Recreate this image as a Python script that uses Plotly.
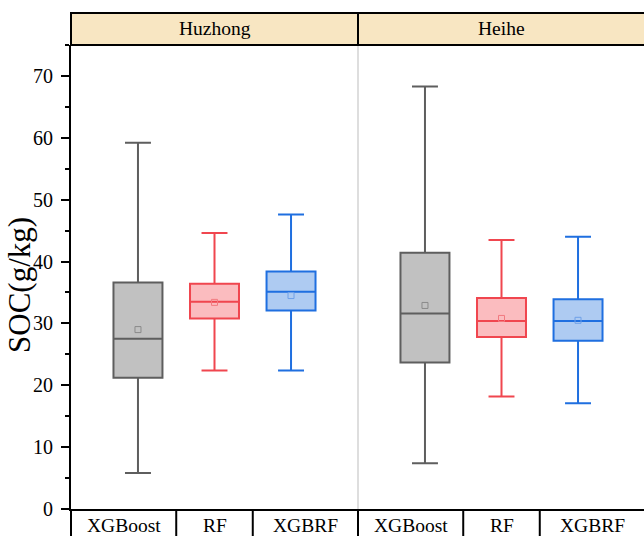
import plotly.graph_objects as go

# Summary statistics of SOC (g/kg) per region and model
regions = ["Huzhong", "Heihe"]
models = ["XGBoost", "RF", "XGBRF"]

lower_whisker = [[5.8, 22.4, 22.4], [7.4, 18.2, 17.1]]
q1_vals = [[21.2, 30.8, 32.1], [23.7, 27.8, 27.2]]
medians = [[27.5, 33.5, 35.1], [31.6, 30.4, 30.4]]
q3_vals = [[36.6, 36.4, 38.4], [41.4, 34.1, 33.9]]
upper_whisker = [[59.2, 44.6, 47.6], [68.3, 43.5, 44.0]]
means = [[29.0, 33.4, 34.5], [32.9, 30.8, 30.5]]

y_ticks = [0, 10, 20, 30, 40, 50, 60, 70]

line_colors = ["#5e5e5e", "#f0464f", "#1f6fe0"]
fill_colors = ["#c1c1c1", "#fbbcbf", "#aecbf2"]
mean_colors = ["#8a8a8a", "#f27a80", "#6fa0e8"]

FONT = "Liberation Serif"
W, H = 644, 536
ML, MT, MB = 71, 45, 27
plot_w = W - ML
plot_h = H - MT - MB

panel_span = 3.75               # width of one region panel in x units
x_min = -0.875
px_per_unit = 287 / panel_span
x_max = x_min + plot_w / px_per_unit


def to_paper_x(v):
    return (v - x_min) / (x_max - x_min)


fig = go.Figure()

for r, region in enumerate(regions):
    for m, model in enumerate(models):
        pos = r * panel_span + m
        fig.add_trace(go.Box(
            x=[pos],
            q1=[q1_vals[r][m]], median=[medians[r][m]], q3=[q3_vals[r][m]],
            lowerfence=[lower_whisker[r][m]], upperfence=[upper_whisker[r][m]],
            width=0.64, whiskerwidth=0.53,
            fillcolor=fill_colors[m],
            line=dict(color=line_colors[m], width=2),
            boxpoints=False, showlegend=False, name=f"{region} {model}",
        ))
        fig.add_trace(go.Scatter(
            x=[pos], y=[means[r][m]], mode="markers",
            marker=dict(symbol="square-open", size=6,
                        color=mean_colors[m], line=dict(width=1)),
            showlegend=False, hoverinfo="skip",
        ))

shapes = []
annotations = []
head_h = 32 / plot_h
foot_h = 40 / plot_h

# header strip with region names
shapes.append(dict(type="rect", xref="paper", yref="paper",
                   x0=0, x1=to_paper_x(2 * panel_span + x_min), y0=1, y1=1 + head_h,
                   fillcolor="#f8e6c2", line=dict(color="black", width=2), layer="above"))
for r, region in enumerate(regions):
    left = x_min + r * panel_span
    if r > 0:
        shapes.append(dict(type="line", xref="paper", yref="paper",
                           x0=to_paper_x(left), x1=to_paper_x(left),
                           y0=1, y1=1 + head_h, line=dict(color="black", width=2)))
        # thin divider between panels
        shapes.append(dict(type="line", xref="x", yref="y",
                           x0=left, x1=left, y0=0, y1=75,
                           line=dict(color="#bdbdbd", width=1), layer="below"))
    annotations.append(dict(xref="paper", yref="paper",
                            x=to_paper_x(left + panel_span / 2), y=1 + head_h / 2,
                            text=region, showarrow=False,
                            font=dict(family=FONT, size=19.5, color="#000"),
                            xanchor="center", yanchor="middle"))

# category cells beneath the axis, each label centred in its cell
for r in range(len(regions)):
    base = r * panel_span
    edges = [base + x_min, base + 0.5, base + 1.5, base + x_min + panel_span]
    for e in edges[:-1]:
        shapes.append(dict(type="line", xref="paper", yref="paper",
                           x0=to_paper_x(e), x1=to_paper_x(e), y0=0, y1=-foot_h,
                           line=dict(color="black", width=2)))
    for m, model in enumerate(models):
        cell_mid = (edges[m] + edges[m + 1]) / 2
        annotations.append(dict(xref="paper", yref="paper",
                                x=to_paper_x(cell_mid), y=-16 / plot_h,
                                text=model, showarrow=False,
                                font=dict(family=FONT, size=19.5, color="#000"),
                                xanchor="center", yanchor="middle"))

# y-axis title
annotations.append(dict(xref="paper", yref="paper",
                        x=(19 - ML) / plot_w, y=(509 - 285) / plot_h, text="SOC(g/kg)",
                        textangle=-90, showarrow=False,
                        font=dict(family=FONT, size=31, color="#000"),
                        xanchor="center", yanchor="middle"))

fig.update_layout(
    width=W, height=H,
    margin=dict(l=ML, r=0, t=MT, b=MB, pad=0),
    paper_bgcolor="white", plot_bgcolor="white",
    shapes=shapes, annotations=annotations,
    xaxis=dict(range=[x_min, x_max], showgrid=False, zeroline=False,
               showticklabels=False, ticks="", showline=True,
               linecolor="black", linewidth=2),
    yaxis=dict(range=[0, 75], tickvals=y_ticks, showgrid=False, zeroline=False,
               ticks="outside", ticklen=8, tickwidth=2, tickcolor="black",
               ticklabelstandoff=4,
               minor=dict(dtick=5, tick0=0, ticks="outside", ticklen=4,
                          tickwidth=2, tickcolor="black"),
               showline=True, linecolor="black", linewidth=2,
               tickfont=dict(family=FONT, size=20, color="#000")),
)

fig.write_html("out.html")
